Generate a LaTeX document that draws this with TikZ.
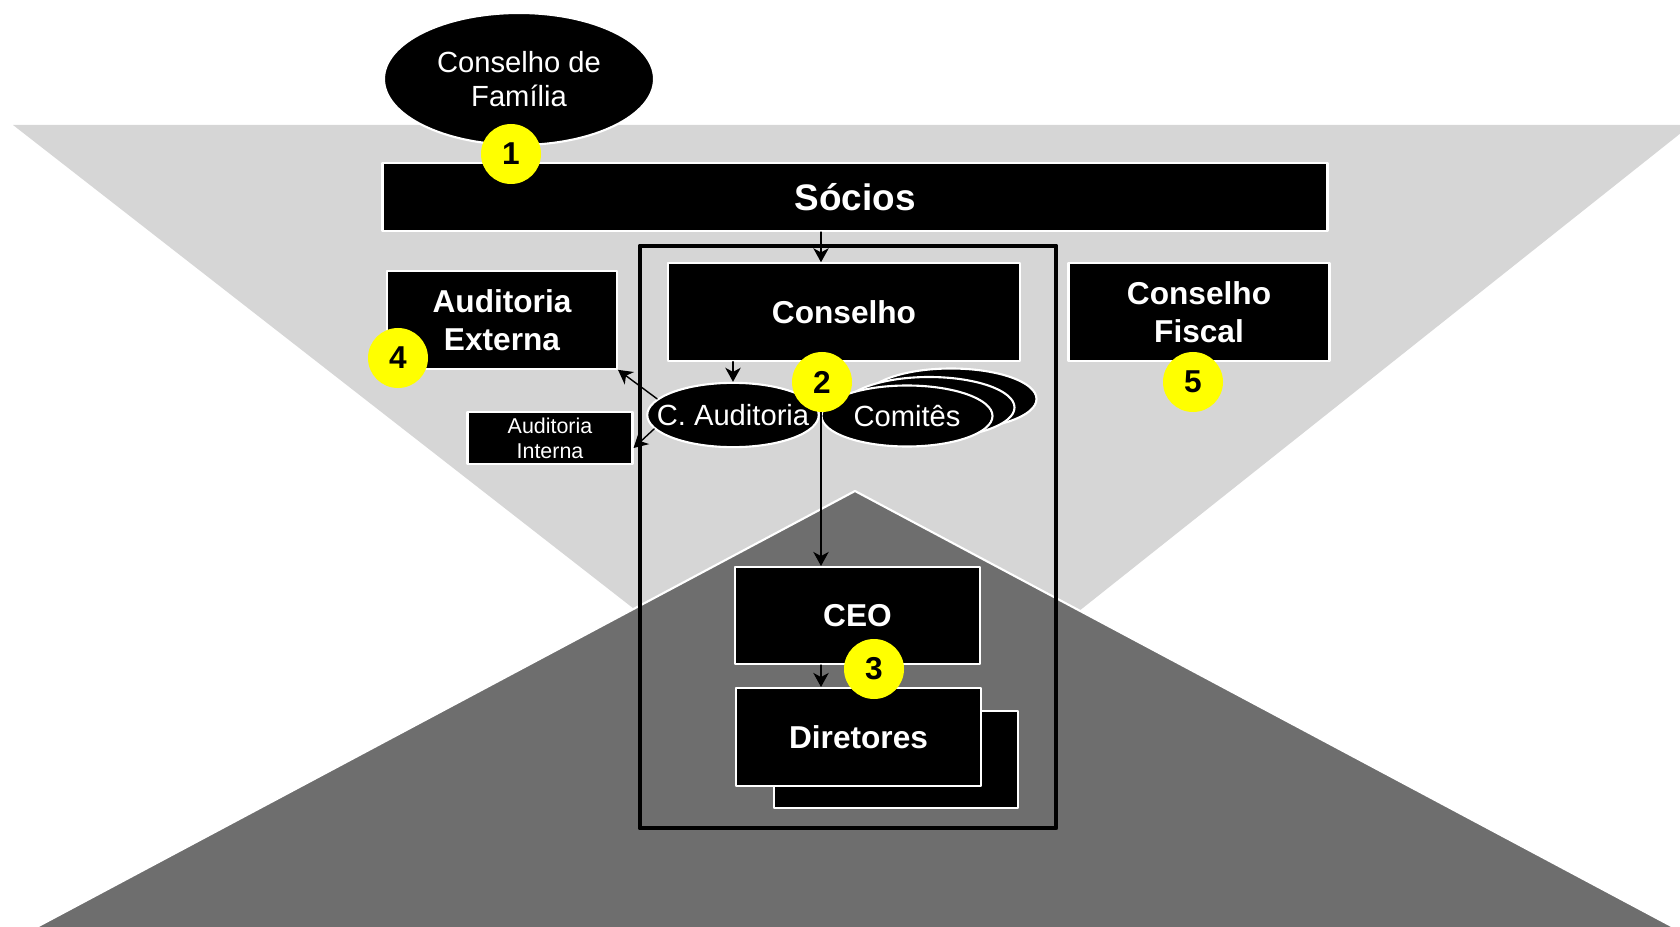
\documentclass[tikz,border=0pt]{standalone}
\usepackage{fontspec}
\setmainfont{Liberation Sans}
\usetikzlibrary{shapes.geometric,arrows.meta}
\definecolor{lightgrid}{HTML}{D6D6D6}
\definecolor{darkgrid}{HTML}{6E6E6E}
\definecolor{numyellow}{HTML}{FFFF00}
\newcommand{\orgtitle}{\fontsize{10.5}{12.6}\selectfont\bfseries}
\newcommand{\orgbold}{\fontsize{9}{10.8}\selectfont\bfseries}
\newcommand{\orgplain}{\fontsize{8.3}{9.7}\selectfont}
\newcommand{\orgsmall}{\fontsize{6.1}{7.2}\selectfont}
\begin{document}
\begin{tikzpicture}[line cap=round, line join=round, font=\orgbold, >={Stealth[length=4pt,width=4.4pt,inset=1.2pt]}]
	\tikzset{orgbox/.style={rectangle, fill=black, draw=white, line width=0.6pt, text=white, align=center, inner sep=0pt},
		orgoval/.style={ellipse, fill=black, draw=white, line width=0.6pt, text=white, align=center, inner sep=0pt},
		badge/.style={circle, fill=numyellow, inner sep=0pt, minimum size=0.6cm, font=\fontsize{9}{9}\selectfont\bfseries}}
	\useasboundingbox (0,0) rectangle (16.8,9.26);
	\clip (0,0) rectangle (16.8,9.26);
	\fill[lightgrid] (0.13,8.01)--(16.91,8.01)--(8.6,1.41)--cycle;
	\filldraw[fill=darkgrid, draw=white, line width=0.6pt] (8.55,4.35)--(17.09,-0.2)--(0.01,-0.2)--cycle;
	\draw[line width=1.4pt] (6.40,0.98) rectangle (10.56,6.80);
	\node[orgoval, minimum width=2.70cm, minimum height=1.32cm, font=\orgplain] (familia) at (5.19,8.47) {Conselho de\\Família};
	\node[orgbox, minimum width=9.45cm, minimum height=0.68cm, font=\orgtitle] (socios) at (8.55,7.29) {Sócios};
	\node[orgbox, minimum width=3.525cm, minimum height=0.974cm] (conselho) at (8.44,6.14) {Conselho};
	\node[orgbox, minimum width=2.30cm, minimum height=0.976cm] (externa) at (5.02,6.06) {Auditoria\\Externa};
	\node[orgbox, minimum width=2.61cm, minimum height=0.974cm] (fiscal) at (11.99,6.14) {Conselho\\Fiscal};
	\node[orgbox, minimum width=1.65cm, minimum height=0.515cm, font=\orgsmall] (interna) at (5.50,4.88) {Auditoria\\Interna};
	\node[orgoval, minimum width=1.715cm, minimum height=0.643cm, label={[text=white, font=\orgplain]center:C. Auditoria}] (caud) at (7.33,5.11) {};
	\node[orgoval, minimum width=1.71cm, minimum height=0.61cm] (comitesC) at (9.51,5.27) {};
	\node[orgoval, minimum width=1.71cm, minimum height=0.61cm] (comitesB) at (9.29,5.185) {};
	\node[orgoval, minimum width=1.71cm, minimum height=0.61cm, font=\orgplain] (comites) at (9.07,5.10) {Comitês};
	\node[orgbox, minimum width=2.45cm, minimum height=0.97cm] (ceo) at (8.575,3.105) {CEO};
	\node[orgbox, minimum width=2.44cm, minimum height=0.97cm] (diretoresB) at (8.96,1.665) {};
	\node[orgbox, minimum width=2.45cm, minimum height=0.98cm] (diretores) at (8.585,1.89) {Diretores};
	\coordinate (trunk) at (8.21,4);
	\draw[->] (socios.south -| trunk)--(conselho.north -| trunk);
	\draw[->] (conselho.south -| trunk)--(ceo.north -| trunk);
	\draw[->] (ceo.south -| trunk)--(diretores.north -| trunk);
	\draw[->] (conselho.south -| caud)--(caud.north);
	\draw[->] (caud.168)--(externa.south east);
	\draw[->] (caud.190)--([yshift=-1mm]interna.east);
	\node[badge] (n1) at (5.11,7.72) {1};
	\node[badge] (n2) at (8.22,5.44) {2};
	\node[badge] (n3) at (8.74,2.57) {3};
	\node[badge] (n4) at (3.98,5.68) {4};
	\node[badge] (n5) at (11.93,5.44) {5};
\end{tikzpicture}
\end{document}
